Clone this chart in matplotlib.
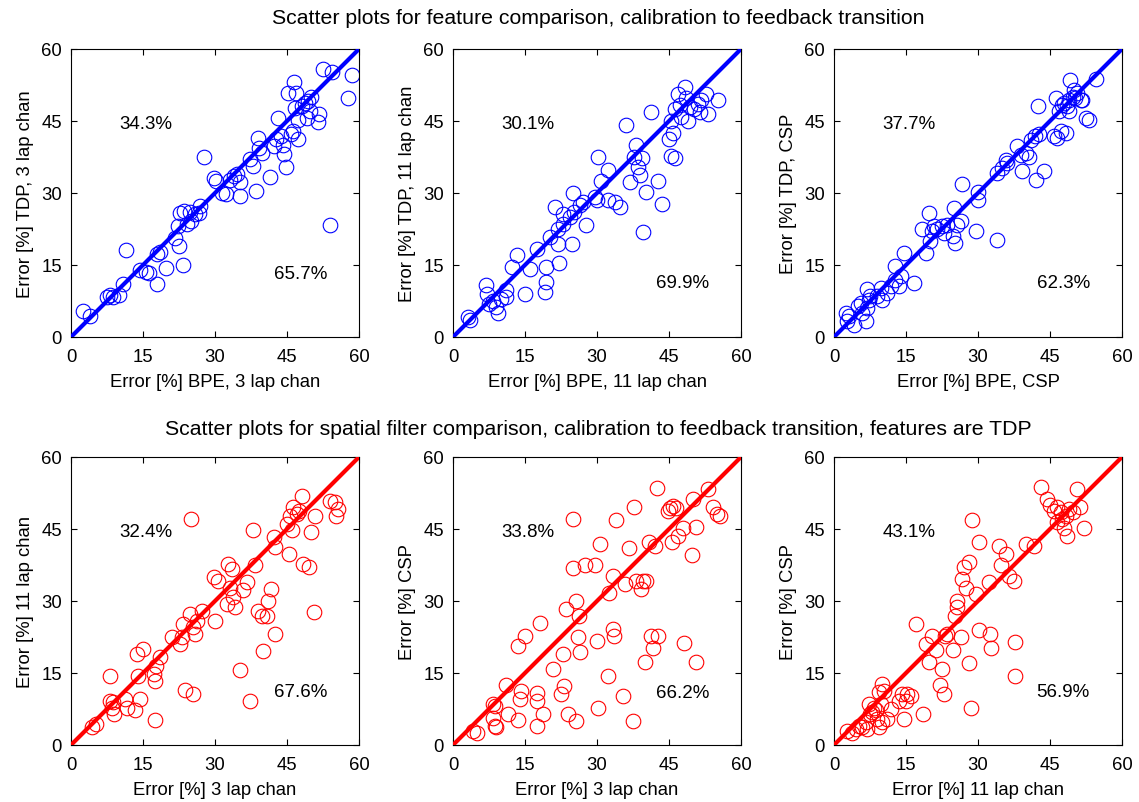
import numpy as np
import matplotlib
matplotlib.use("Agg")
import matplotlib.pyplot as plt

plt.rcParams['font.family'] = ['Liberation Sans', 'DejaVu Sans']

# ---- top row: feature comparison (blue) ----
# BPE 3 lap chan vs TDP 3 lap chan
bpe3 = [2.4, 4.0, 7.4, 8.1, 8.8, 10.1, 10.9, 11.4, 14.4, 15.6, 16.3, 18.0, 18.0, 18.5, 19.8,
        21.7, 22.4, 23.4, 22.2, 22.7, 23.5, 24.1, 24.7, 25.1, 25.8, 26.9, 26.7, 27.8, 29.7,
        30.3, 31.5, 32.2, 34.0, 34.5, 35.2, 35.2, 37.3, 38.0, 38.5, 39.0, 39.2, 39.7, 41.5,
        42.2, 42.8, 43.2, 43.7, 44.1, 44.4, 44.7, 45.3, 45.8, 46.3, 46.5, 46.8, 47.2, 47.2,
        46.7, 48.1, 48.8, 49.4, 50.1, 49.8, 49.1, 51.7, 51.5, 52.6, 54.3, 58.6, 57.8, 54.0, 33.1]
tdp3 = [5.4, 4.4, 8.4, 8.7, 8.4, 8.7, 11.1, 18.1, 14.0, 13.6, 13.4, 11.1, 17.2, 17.7, 14.4,
        20.7, 19.0, 14.9, 23.1, 25.9, 26.3, 23.5, 26.0, 24.2, 25.6, 27.3, 25.9, 37.4, 33.2,
        32.5, 30.1, 29.7, 33.5, 33.9, 32.3, 29.4, 37.0, 35.6, 30.4, 41.5, 39.4, 38.4, 33.4,
        39.8, 41.2, 45.7, 41.9, 39.9, 38.1, 35.4, 50.9, 42.2, 42.9, 53.1, 50.9, 41.3, 45.3,
        47.8, 48.1, 48.8, 49.2, 50.1, 47.1, 45.7, 46.4, 44.7, 55.9, 55.3, 54.5, 49.7, 23.3, 32.8]

# BPE 11 lap chan vs TDP 11 lap chan
bpe11 = [3.1, 3.5, 6.9, 7.1, 7.6, 8.3, 9.0, 9.4, 10.1, 11.0, 11.1, 12.2, 13.3, 14.9, 16.0,
         17.5, 19.1, 19.4, 19.4, 20.3, 21.2, 21.9, 21.9, 22.1, 22.9, 22.9, 24.3, 24.7, 24.9,
         25.3, 26.4, 27.1, 27.8, 29.5, 29.9, 30.2, 30.9, 32.3, 32.3, 33.7, 34.7, 36.1, 36.8,
         37.8, 38.2, 38.5, 38.9, 39.4, 39.6, 40.3, 41.3, 42.7, 43.6, 45.1, 45.5, 45.8, 45.5,
         46.2, 46.2, 46.9, 47.2, 48.3, 48.6, 49.0, 49.3, 50.3, 51.0, 51.7, 52.8, 53.1, 55.2,
         51.4, 47.6]
tdp11 = [4.2, 3.5, 10.8, 9.0, 6.9, 7.6, 6.3, 5.0, 8.0, 8.3, 9.7, 14.6, 17.0, 9.0, 14.2,
         18.4, 9.4, 11.5, 14.6, 20.8, 27.1, 22.6, 19.4, 15.4, 25.7, 23.6, 25.0, 19.4, 30.0,
         26.0, 27.4, 28.1, 23.3, 29.2, 28.5, 37.5, 32.6, 34.7, 28.5, 28.1, 27.1, 44.1, 32.3,
         37.5, 39.9, 35.4, 33.7, 37.2, 21.9, 30.2, 46.9, 32.6, 27.8, 41.3, 45.1, 42.4, 37.8,
         37.2, 47.6, 50.7, 48.3, 52.1, 49.7, 45.1, 47.9, 47.6, 48.6, 49.3, 50.7, 46.4, 49.3,
         46.9, 45.8]

# BPE CSP vs TDP CSP
bpe_csp = [2.4, 2.8, 3.1, 4.2, 4.9, 5.6, 5.9, 6.6, 6.9, 7.3, 6.9, 7.6, 9.0, 9.7, 10.1, 11.1,
           11.8, 12.8, 12.8, 13.5, 13.9, 14.6, 16.7, 18.4, 19.1, 19.8, 20.1, 20.5, 20.8, 21.5,
           22.6, 22.9, 23.6, 24.7, 25.0, 25.3, 25.7, 26.4, 26.7, 29.5, 29.9, 29.9, 33.9, 34.0,
           35.1, 35.8, 36.1, 38.2, 38.9, 39.2, 39.9, 40.6, 41.0, 41.8, 42.0, 42.6, 42.7, 43.8,
           45.8, 46.2, 46.5, 47.2, 46.9, 47.6, 48.3, 47.9, 48.6, 49.0, 49.2, 49.7, 50.0, 50.3,
           50.7, 51.4, 51.7, 52.4, 53.1, 54.5, 49.0]
tdp_csp = [5.0, 3.3, 4.3, 2.6, 6.4, 7.1, 5.0, 3.3, 6.0, 7.8, 9.9, 8.5, 8.5, 10.2, 7.8, 9.2,
           10.6, 11.9, 14.7, 10.6, 12.7, 17.5, 11.2, 22.4, 17.5, 25.8, 19.9, 22.0, 23.1, 22.4,
           23.1, 21.7, 23.4, 21.0, 26.9, 19.6, 23.4, 24.2, 31.9, 22.0, 30.3, 28.6, 20.3, 34.2,
           35.2, 36.9, 36.3, 39.7, 38.0, 34.5, 38.3, 37.6, 41.1, 41.8, 32.8, 48.1, 42.2, 34.5,
           41.8, 49.8, 41.5, 42.9, 47.0, 48.4, 42.5, 48.8, 48.1, 49.4, 53.6, 50.1, 51.5, 49.8,
           50.8, 49.4, 49.4, 45.6, 45.3, 53.8, 47.0]

# ---- bottom row: spatial filter comparison, TDP features (red) ----
# 3 lap chan vs 11 lap chan
lap3_a = [4.3, 5.3, 8.1, 8.1, 8.5, 8.8, 9.0, 11.3, 11.6, 13.3, 13.7, 14.0, 14.4, 14.9, 17.2,
          17.5, 17.5, 17.8, 18.5, 21.0, 22.7, 23.1, 23.4, 23.7, 24.8, 25.1, 25.5, 25.5, 25.8,
          26.2, 27.2, 29.7, 30.0, 30.7, 32.4, 32.8, 33.5, 33.1, 33.8, 34.2, 35.2, 35.9, 36.6,
          37.3, 38.0, 38.3, 39.0, 39.7, 40.1, 40.8, 41.1, 41.6, 42.5, 42.2, 42.5, 44.9, 45.5,
          45.6, 46.0, 46.3, 47.0, 47.4, 48.1, 48.3, 49.6, 50.1, 50.8, 50.6, 54.0, 55.0, 55.7, 55.3]
lap11_a = [3.7, 4.4, 14.4, 9.2, 7.8, 8.9, 6.5, 9.6, 7.8, 7.2, 19.0, 14.4, 9.6, 20.0, 14.8,
           13.4, 5.2, 16.5, 18.3, 22.4, 21.0, 22.4, 25.2, 11.5, 27.3, 47.1, 10.6, 24.5, 23.1,
           25.9, 28.0, 34.9, 25.9, 34.2, 29.4, 37.7, 36.7, 32.8, 30.8, 28.7, 15.6, 32.2, 33.9,
           9.1, 44.7, 37.4, 28.0, 26.9, 19.5, 26.9, 30.1, 32.5, 23.1, 43.3, 41.2, 46.0, 39.8,
           47.8, 44.7, 49.5, 48.1, 48.8, 51.9, 37.7, 37.0, 44.3, 47.8, 27.8, 50.9, 50.6, 49.2, 47.8]

# 3 lap chan vs CSP
lap3_b = [4.2, 4.9, 8.3, 8.7, 8.3, 8.7, 9.0, 11.1, 11.5, 13.5, 13.5, 13.9, 14.2, 14.9, 17.4,
          17.4, 17.4, 18.1, 18.8, 20.8, 22.6, 22.9, 23.2, 23.6, 23.9, 25.0, 25.0, 25.6, 25.6,
          26.0, 26.3, 26.4, 27.4, 29.5, 29.9, 30.2, 30.6, 32.3, 32.4, 33.3, 33.3, 33.5, 33.9,
          35.4, 35.8, 36.7, 37.4, 37.8, 38.2, 39.2, 39.6, 40.0, 40.3, 40.9, 41.3, 41.7, 42.0,
          42.4, 42.8, 44.8, 45.3, 45.7, 45.8, 46.5, 46.9, 47.9, 48.2, 49.7, 50.0, 50.7, 50.7,
          53.1, 54.2, 54.9, 55.6]
csp_b = [2.9, 2.6, 8.5, 8.1, 5.7, 4.0, 3.8, 12.6, 6.4, 20.6, 5.3, 9.5, 11.3, 22.7, 10.9,
         9.2, 4.0, 25.5, 6.4, 15.8, 10.6, 19.0, 12.3, 28.3, 6.4, 36.8, 47.0, 5.0, 29.9,
         22.4, 26.9, 19.4, 37.6, 37.5, 21.7, 7.8, 41.8, 14.4, 31.7, 35.2, 24.1, 22.7, 46.8,
         10.2, 33.5, 41.1, 5.0, 49.6, 34.2, 32.4, 34.2, 17.2, 34.2, 42.2, 22.7, 20.3, 41.5,
         53.5, 22.7, 48.8, 49.4, 42.2, 49.8, 49.4, 43.5, 45.3, 21.3, 39.6, 51.2, 45.4, 17.2,
         53.3, 49.6, 48.1, 47.7]

# 11 lap chan vs CSP
lap11_c = [2.8, 3.8, 4.5, 5.2, 5.9, 6.6, 6.9, 7.3, 7.6, 8.0, 8.3, 8.7, 9.0, 9.4, 9.7, 9.9,
           9.4, 10.1, 10.4, 11.1, 11.8, 13.5, 14.2, 14.6, 14.9, 15.3, 16.0, 17.0, 18.6, 19.1,
           19.8, 20.5, 21.2, 22.1, 22.6, 22.9, 23.1, 23.6, 24.7, 25.3, 25.6, 25.7, 26.4, 26.7,
           27.1, 27.4, 28.1, 28.1, 28.5, 28.8, 29.5, 30.2, 30.2, 32.3, 32.6, 32.8, 34.4, 34.7,
           35.8, 36.5, 37.5, 37.8, 37.8, 40.1, 41.7, 43.1, 44.4, 45.1, 45.8, 46.5, 47.2, 47.6,
           47.9, 48.3, 48.6, 49.0, 49.7, 50.7, 51.3, 52.1, 46.5]
csp_c = [3.0, 2.6, 3.3, 4.0, 3.7, 4.7, 3.3, 8.5, 6.5, 6.8, 7.8, 7.2, 5.4, 3.7, 8.5, 4.7,
         11.0, 12.7, 11.3, 5.4, 7.5, 9.2, 10.6, 5.4, 9.2, 10.6, 10.3, 25.3, 6.5, 21.0,
         17.2, 22.8, 19.7, 12.4, 15.8, 10.6, 22.8, 23.1, 19.7, 26.9, 28.7, 30.1, 22.4, 34.6,
         37.0, 32.8, 38.1, 17.0, 7.8, 46.9, 31.5, 24.0, 42.2, 33.9, 23.1, 20.3, 41.5, 37.4,
         39.8, 35.3, 34.2, 21.4, 14.4, 41.9, 41.5, 53.7, 51.3, 49.9, 48.8, 49.5, 48.5, 47.1,
         45.3, 47.8, 43.6, 49.2, 48.5, 53.3, 49.5, 45.3, 46.4]

ticks = [0, 15, 30, 45, 60]

panels = [
    (bpe3, tdp3, 'Error [%] BPE, 3 lap chan', 'Error [%] TDP, 3 lap chan', '34.3%', '65.7%', 13.2),
    (bpe11, tdp11, 'Error [%] BPE, 11 lap chan', 'Error [%] TDP, 11 lap chan', '30.1%', '69.9%', 11.3),
    (bpe_csp, tdp_csp, 'Error [%] BPE, CSP', 'Error [%] TDP, CSP', '37.7%', '62.3%', 11.3),
    (lap3_a, lap11_a, 'Error [%] 3 lap chan', 'Error [%] 11 lap chan', '32.4%', '67.6%', 11.1),
    (lap3_b, csp_b, 'Error [%] 3 lap chan', 'Error [%] CSP', '33.8%', '66.2%', 11.0),
    (lap11_c, csp_c, 'Error [%] 11 lap chan', 'Error [%] CSP', '43.1%', '56.9%', 11.1),
]

fig = plt.figure(figsize=(11.39, 8.03), dpi=100)
lefts = [71 / 1139, 453 / 1139, 834 / 1139]
bottoms = [1 - 338 / 803, 1 - 746 / 803]
w, h = 288 / 1139, 288 / 803

for k, (xs, ys, xl, yl, t_up, t_low, y_low) in enumerate(panels):
    row, col = k // 3, k % 3
    color = 'blue' if row == 0 else 'red'
    ax = fig.add_axes([lefts[col], bottoms[row], w, h])
    ax.plot([0, 60], [0, 60], color=color, lw=3, zorder=3)
    ax.plot(xs, ys, 'o', mfc='none', mec=color, ms=10.5, mew=0.8, zorder=2)
    ax.set_xlim(0, 60)
    ax.set_ylim(0, 60)
    ax.set_xticks(ticks)
    ax.set_yticks(ticks)
    ax.tick_params(direction='in', top=True, right=True, length=4, labelsize=13.3, width=0.8)
    ax.tick_params(axis='x', pad=8)
    ax.tick_params(axis='y', pad=6.5)
    ax.set_xlabel(xl, fontsize=13.3, labelpad=6)
    ax.set_ylabel(yl, fontsize=13.3, labelpad=5)
    ax.text(10.1, 44.5, t_up, fontsize=13.5, va='center')
    ax.text(42.2, y_low, t_low, fontsize=13.5, va='center')
    for s in ax.spines.values():
        s.set_linewidth(0.8)

fig.text(0.525, 1 - 18 / 803, 'Scatter plots for feature comparison, calibration to feedback transition',
         ha='center', va='center', fontsize=15.3)
fig.text(0.525, 1 - 430 / 803,
         'Scatter plots for spatial filter comparison, calibration to feedback transition, features are TDP',
         ha='center', va='center', fontsize=15.3)

fig.savefig('out.png', dpi=100)
